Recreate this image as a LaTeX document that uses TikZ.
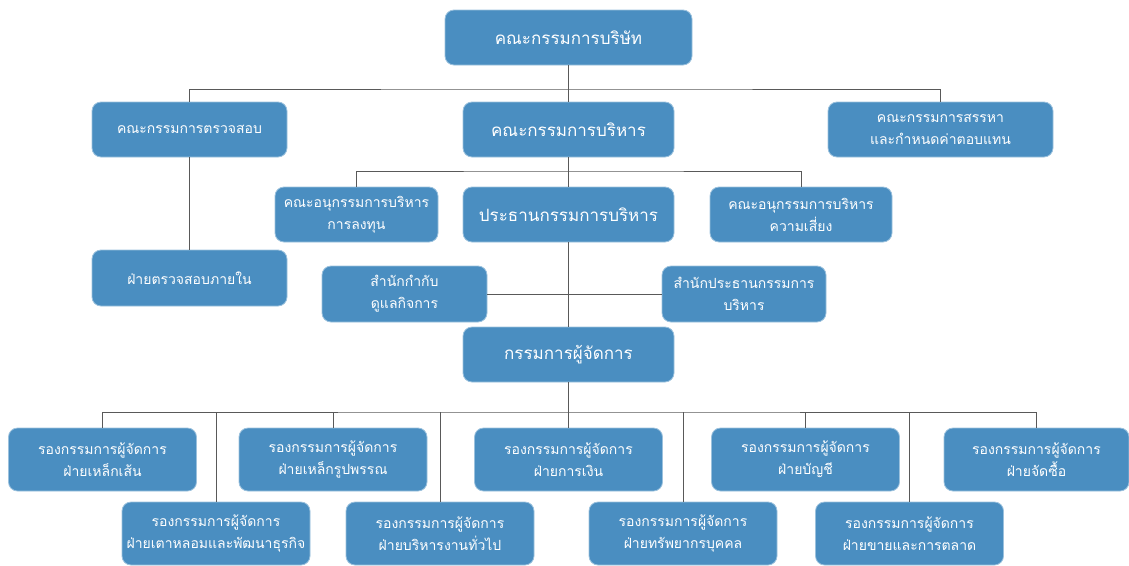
\documentclass[tikz,border=0pt]{standalone}
\usepackage{fontspec}
\newfontfamily\thaifont[Script=Thai]{Loma}
\usepackage{xcolor}
\definecolor{boxblue}{HTML}{4A8EC1}
\definecolor{linegray}{HTML}{595959}

\begin{document}
\begin{tikzpicture}[x=1pt,y=-1pt,
    box/.style={rectangle,rounded corners=9pt,fill=boxblue,draw=boxblue!55!white,
                line width=0.8pt,text=white,align=center,inner sep=0pt,
                minimum width=188,minimum height=63,
                font=\thaifont\fontsize{14}{22}\selectfont},
    bigbox/.style={box,minimum width=211,minimum height=55,
                font=\thaifont\fontsize{17}{22}\selectfont},
    link/.style={draw=linegray,line width=0.9pt}]
  \useasboundingbox (0,0) rectangle (1129,565);

  % board ----------------------------------------------------------------------
  \node[bigbox,minimum width=247] (board) at (568.5,37.5) {คณะกรรมการบริษัท};

  %----------------------------------------------------------------------------%
  %  committees  ---------------------------------------------------------------%
  \node[box,minimum width=195,minimum height=55] (audit) at (189.5,129.5)
        {คณะกรรมการตรวจสอบ};
  \node[bigbox] (exec) at (568.5,129.5) {คณะกรรมการบริหาร};
  \node[box,minimum width=225,minimum height=55] (nomin) at (940.5,129.5)
        {คณะกรรมการสรรหา\\และกำหนดค่าตอบแทน};

  \node[box,minimum width=163,minimum height=55] (invest) at (356.5,214.5)
        {คณะอนุกรรมการบริหาร\\การลงทุน};
  \node[bigbox] (chair) at (568.5,214.5) {ประธานกรรมการบริหาร};
  \node[box,minimum width=182,minimum height=55] (risk) at (801,214.5)
        {คณะอนุกรรมการบริหาร\\ความเสี่ยง};

  \node[box,minimum width=195,minimum height=56] (intaudit) at (189.5,278)
        {ฝ่ายตรวจสอบภายใน};

  %----------------------------------------------------------------------------%
  %  offices + managing director  ----------------------------------------------%
  \node[box,minimum width=165,minimum height=56] (govern) at (404.5,294)
        {สำนักกำกับ\\ดูแลกิจการ};
  \node[box,minimum width=164,minimum height=56] (office) at (744,294)
        {สำนักประธานกรรมการ\\บริหาร};
  \node[bigbox] (md) at (568.5,354.5) {กรรมการผู้จัดการ};

  %----------------------------------------------------------------------------%
  %  deputy managing directors  ------------------------------------------------%
  \node[box] (rebar) at (102.5,459.5) {รองกรรมการผู้จัดการ\\ฝ่ายเหล็กเส้น};
  \node[box] (steel) at (333,459.5) {รองกรรมการผู้จัดการ\\ฝ่ายเหล็กรูปพรรณ};
  \node[box] (fin)   at (568.5,459.5) {รองกรรมการผู้จัดการ\\ฝ่ายการเงิน};
  \node[box] (acct)  at (805.5,459.5) {รองกรรมการผู้จัดการ\\ฝ่ายบัญชี};
  \node[box,minimum width=185] (purch) at (1036.5,459.5)
        {รองกรรมการผู้จัดการ\\ฝ่ายจัดซื้อ};

  \node[box] (furn)  at (216,533.5) {รองกรรมการผู้จัดการ\\ฝ่ายเตาหลอมและพัฒนาธุรกิจ};
  \node[box] (gen)   at (440,533.5) {รองกรรมการผู้จัดการ\\ฝ่ายบริหารงานทั่วไป};
  \node[box] (hr)    at (683,533.5) {รองกรรมการผู้จัดการ\\ฝ่ายทรัพยากรบุคคล};
  \node[box] (sales) at (909.5,533.5) {รองกรรมการผู้จัดการ\\ฝ่ายขายและการตลาด};

  %----------------------------------------------------------------------------%
  %  connectors  ---------------------------------------------------------------%
  \coordinate (bus1) at (568.5,89);
  \coordinate (bus2) at (568.5,171);
  \coordinate (bus3) at (568.5,412);

  \draw[link] (board.south) -- (exec.north);
  \draw[link] (audit.north) |- (bus1) -| (nomin.north);
  \draw[link] (audit.south) -- (intaudit.north);

  \draw[link] (exec.south) -- (chair.north);
  \draw[link] (invest.north) |- (bus2) -| (risk.north);

  \draw[link] (chair.south) -- (md.north);
  \draw[link] (govern.east) -- (office.west);

  \draw[link] (md.south) -- (fin.north);
  \draw[link] (rebar.north) |- (bus3) -| (purch.north);
  \foreach \b in {furn,steel,gen,hr,acct,sales}
    \draw[link] (\b.north) -- (\b.north |- bus3);
\end{tikzpicture}
\end{document}
